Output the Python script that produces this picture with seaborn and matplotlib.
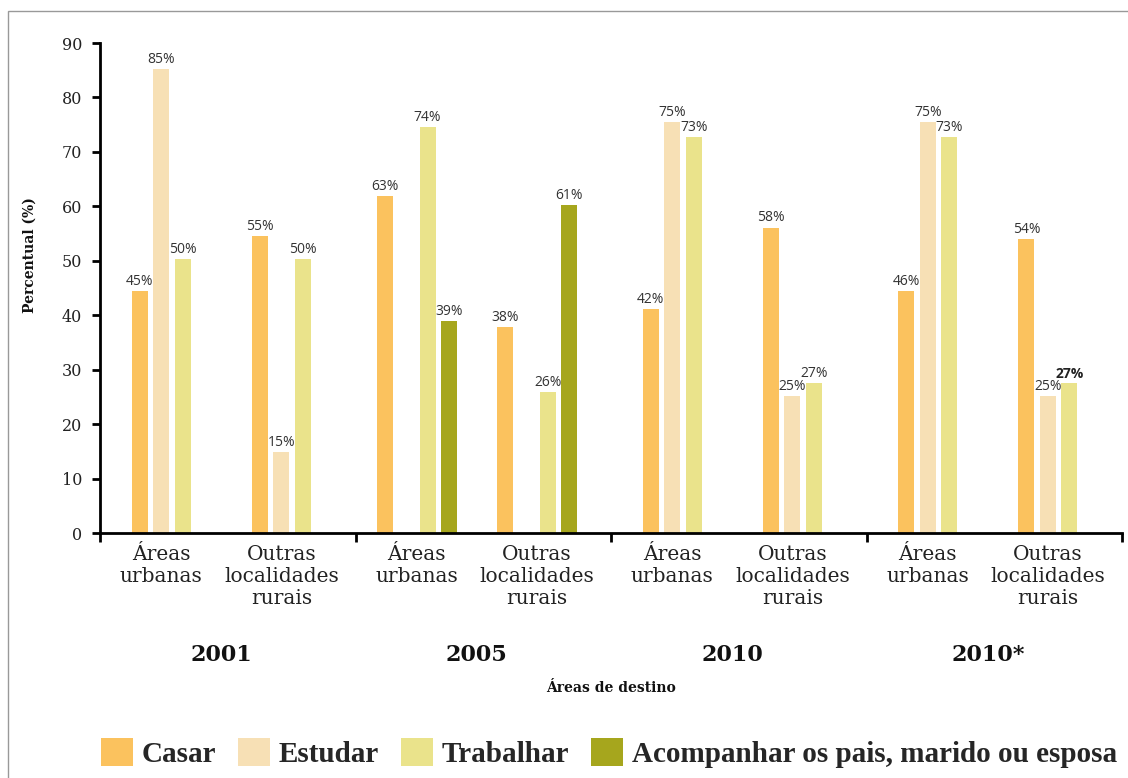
import numpy as np
import pandas as pd
import matplotlib
matplotlib.use("Agg")
import matplotlib.pyplot as plt
import seaborn as sns
from matplotlib.patches import Patch, Rectangle

# ---------------- data ----------------
years = ["2001", "2005", "2010", "2010*"]
areas = ["Áreas\nurbanas", "Outras\nlocalidades\nrurais"]
series = ["Casar", "Estudar", "Trabalhar", "Acompanhar os pais, marido ou esposa"]
# reasons shown in each year block
year_series = {
    "2001": ["Casar", "Estudar", "Trabalhar"],
    "2005": ["Casar", "Estudar", "Trabalhar", "Acompanhar os pais, marido ou esposa"],
    "2010": ["Casar", "Estudar", "Trabalhar"],
    "2010*": ["Casar", "Estudar", "Trabalhar"],
}
nan = np.nan
# bar heights, order: 2001 urb, 2001 out, 2005 urb, 2005 out, 2010 urb, 2010 out, 2010* urb, 2010* out
casar = [44.5, 54.6, 61.9, 37.9, 41.2, 56.1, 44.5, 54.0]
estudar = [85.3, 14.9, nan, nan, 75.4, 25.2, 75.4, 25.2]
trabalhar = [50.4, 50.4, 74.6, 25.9, 72.8, 27.6, 72.8, 27.6]
acompanhar = [nan, nan, 39.0, 60.3, nan, nan, nan, nan]
# printed value labels
casar_lbl = [45, 55, 63, 38, 42, 58, 46, 54]
estudar_lbl = [85, 15, None, None, 75, 25, 75, 25]
trabalhar_lbl = [50, 50, 74, 26, 73, 27, 73, 27]
acompanhar_lbl = [None, None, 39, 61, None, None, None, None]
bold_label = ("2010*", 1, "Trabalhar")

colors = ["#FBC25E", "#F7E0B5", "#EAE38B", "#A6A61D"]
palette = dict(zip(series, colors))

values = [casar, estudar, trabalhar, acompanhar]
labels = [casar_lbl, estudar_lbl, trabalhar_lbl, acompanhar_lbl]

area_offsets = [0.24, 0.71]
rows = []
for si, s in enumerate(series):
    for k in range(8):
        yi, ai = divmod(k, 2)
        rows.append(dict(year=years[yi], yi=yi, ai=ai, series=s, sidx=si,
                         pos=yi + area_offsets[ai], value=values[si][k],
                         label=labels[si][k]))
df = pd.DataFrame(rows)

# ---------------- figure ----------------
sns.set_style("white")
plt.rcParams["font.family"] = ["DejaVu Serif"]

fig = plt.figure(figsize=(11.28, 7.78), dpi=100)
ax = fig.add_axes([100 / 1128, 245 / 778, 1022 / 1128, 490 / 778])

SLOT = 0.0841
GAP = 0.256

for yi, yr in enumerate(years):
    slots = year_series[yr]
    for ai in range(2):
        sub = df[(df.yi == yi) & (df.ai == ai) & df.series.isin(slots)].dropna(subset=["value"])
        sub = sub.sort_values("sidx")
        n0 = len(ax.containers)
        sns.barplot(data=sub, x="pos", y="value", hue="series", hue_order=slots,
                    palette=palette, native_scale=True, width=SLOT * len(slots),
                    gap=GAP, errorbar=None, legend=False, saturation=1,
                    linewidth=0, edgecolor="none", ax=ax)
        new = [c for c in ax.containers[n0:] if len(c)]
        for c, (_, r) in zip(new, sub.iterrows()):
            is_bold = (r.year, r.ai, r.series) == bold_label
            ax.bar_label(c, labels=[f"{int(r.label)}%"], padding=1.5,
                         fontsize=10, color="#222222" if is_bold else "#333333",
                         fontfamily="Open Sans",
                         fontweight="bold" if is_bold else "normal")

ax.set_xlim(0, 4)
ax.set_ylim(0, 90)

for sp in ["top", "right"]:
    ax.spines[sp].set_visible(False)
for sp in ["left", "bottom"]:
    ax.spines[sp].set_color("black")
    ax.spines[sp].set_linewidth(2)

ax.set_yticks(range(0, 91, 10))
ax.tick_params(axis="y", direction="out", length=6, width=2, color="black",
               labelsize=11.5, pad=7, labelcolor="#222222", left=True)

ax.set_xticks(range(5))
ax.set_xticklabels([""] * 5)
ax.tick_params(axis="x", which="major", direction="out", length=6.5, width=2,
               color="black", bottom=True)
minor_pos = [yi + area_offsets[ai] for yi in range(4) for ai in range(2)]
ax.set_xticks(minor_pos, minor=True)
ax.set_xticklabels(areas * 4, minor=True, fontsize=14.5, linespacing=1.2,
                   color="#222222")
ax.tick_params(axis="x", which="minor", length=0, pad=9)

ax.set_xlabel("")
ax.set_ylabel("")

# year labels
for yi, yr in enumerate(years):
    ax.text(yi + sum(area_offsets) / 2, -0.249, yr, transform=ax.get_xaxis_transform(),
            ha="center", va="center", fontsize=16, fontweight="bold", color="#111111")

ax.text(0.5, -0.316, "Áreas de destino", transform=ax.transAxes, ha="center",
        va="center", fontsize=10, fontweight="bold", color="#111111")
ax.text(-0.0685, 0.567, "Percentual (%)", transform=ax.transAxes, ha="center",
        va="center", rotation=90, fontsize=10, fontweight="bold", color="#111111")

# legend
handles = [Patch(facecolor=palette[s], edgecolor="none", label=s) for s in series]
fig.legend(handles=handles, loc="center left", bbox_to_anchor=(86 / 1128, 25 / 778),
           ncol=4, frameon=False, borderpad=0, handlelength=1.1, handleheight=1.1,
           handletextpad=0.3, columnspacing=0.75,
           prop=dict(family="Liberation Serif", weight="bold", size=21))

# outer frame (open on the right)
fig.patches.append(Rectangle((8 / 1128, -0.01), 1.2, 1 - 11 / 778 + 0.01,
                             transform=fig.transFigure, fill=False,
                             edgecolor="#999999", linewidth=1))

fig.savefig("out.png", dpi=100)
